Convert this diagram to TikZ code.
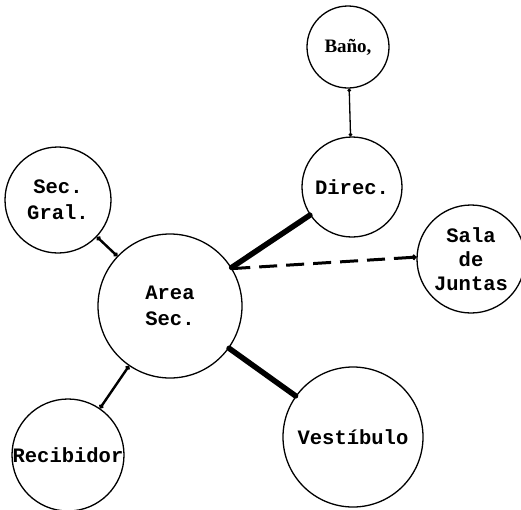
\documentclass[tikz,border=0pt]{standalone}
\usepackage{fontspec}
\setmonofont{Liberation Mono}
\newfontfamily\serifbano{Liberation Serif}
\usetikzlibrary{arrows.meta}

\begin{document}
\begin{tikzpicture}[x=1pt,y=-1pt]
  % Styles
  \tikzset{
    zona/.style={draw, circle, line width=1.3pt, inner sep=0pt, align=center,
      font=\ttfamily\bfseries\fontsize{20.5}{26}\selectfont},
    fino/.style={line width=1.3pt, {Circle[length=3.5pt]}-{Circle[length=3.5pt]}},
    medio/.style={line width=2.4pt, {Circle[length=4.5pt]}-{Circle[length=4.5pt]}},
    grueso/.style={line width=5.5pt, line cap=round},
    punteado/.style={line width=3pt, dash pattern=on 18pt off 9pt, -{Circle[length=5pt]}},
  }

  % Cadre
  \useasboundingbox (0,0) rectangle (521,509);

  % Zonas
  \node[zona, minimum size=82pt] (bano) at (348,47)
    {\serifbano\fontsize{19}{22}\selectfont Baño,};
  \node[zona, minimum size=100pt] (direc) at (352,187) {Direc.};
  \node[zona, minimum size=106pt] (secgral) at (58,200) {Sec.\\Gral.};
  \node[zona, minimum size=144pt] (area) at (170,306) {Area\\Sec.};
  \node[zona, minimum size=108pt] (sala) at (471,259) {Sala\\[-2pt]de\\[-2pt]Juntas};
  \node[zona, minimum size=112pt] (recibidor) at (68,455) {Recibidor};
  \node[zona, minimum size=140pt] (vestibulo) at (353,437) {Vestíbulo};

  % Conexiones
  \draw[fino] (bano) -- (direc);
  \draw[medio] (secgral) -- (area);
  \draw[medio] (recibidor) -- (area);
  \draw[grueso] (area.32) -- (direc);
  \draw[grueso] (area) -- (vestibulo);
  \draw[punteado] (area.31) -- (sala.178);

\end{tikzpicture}
\end{document}
